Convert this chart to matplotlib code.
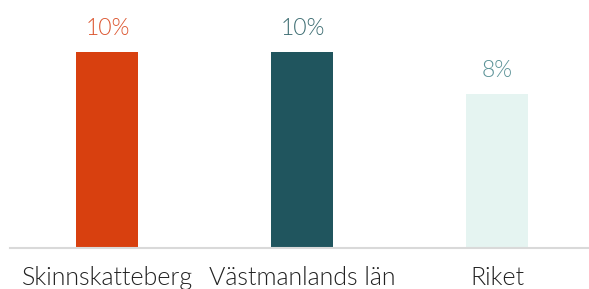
import matplotlib
matplotlib.use("Agg")
import matplotlib.pyplot as plt

categories = ["Skinnskatteberg", "Västmanlands län", "Riket"]
values = [10.0, 10.0, 7.85]
labels = ["10%", "10%", "8%"]
bar_colors = ["#d8400f", "#20555e", "#e5f4f1"]
label_colors = ["#dc5630", "#3d6d72", "#5b9297"]

plt.rcParams['font.family'] = ['Lato', 'DejaVu Sans']

fig = plt.figure(figsize=(5.89, 2.89), dpi=100)
ax = fig.add_axes([10/589, 1 - 248/289, 579/589, (248-20)/289])

x = list(range(len(categories)))
ax.bar(x, values, width=0.318, color=bar_colors, zorder=2)
for xi, v, lab, c in zip(x, values, labels, label_colors):
    ax.annotate(lab, (xi, v), xytext=(0, 9.5), textcoords='offset points',
                ha='center', va='bottom', fontsize=16.5, color=c, fontweight=300)

ax.set_xlim(-0.5, 2.47)
ax.set_ylim(0, 10 * 228 / 196)
ax.set_yticks([])
ax.set_xticks(x)
ax.set_xticklabels(categories, fontsize=18, color="#222222", fontweight=300)
ax.tick_params(axis='x', length=0, pad=13)
for s in ['top', 'right', 'left']:
    ax.spines[s].set_visible(False)
ax.spines['bottom'].set_color('#d9d9d9')
ax.spines['bottom'].set_linewidth(1.5)

fig.savefig("out.png", dpi=100)
